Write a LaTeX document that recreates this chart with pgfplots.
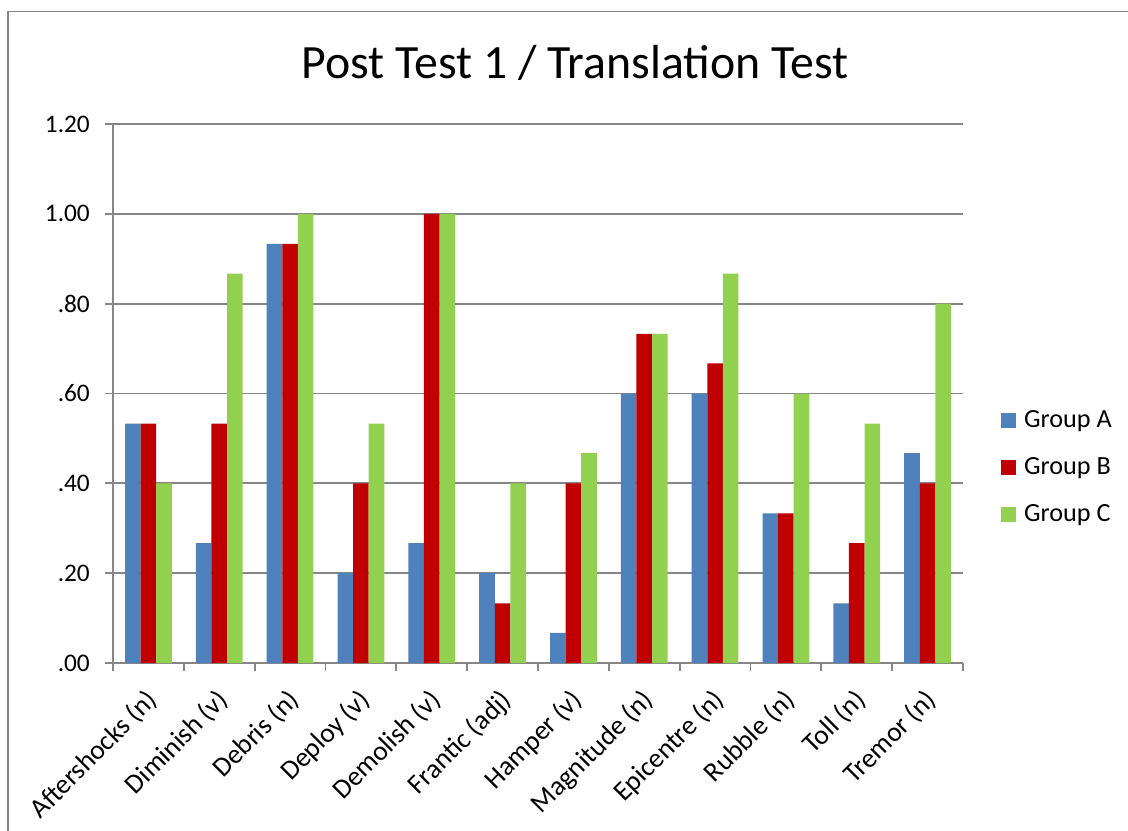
\documentclass[border=0pt]{standalone}
\usepackage{fontspec}
\setmainfont{Carlito}
\usepackage{pgfplots}
\pgfplotsset{compat=1.18}
\definecolor{grpA}{HTML}{4F81BD}
\definecolor{grpB}{HTML}{C00000}
\definecolor{grpC}{HTML}{92D050}
\definecolor{axgray}{HTML}{868686}
\pgfplotsset{sqleg/.style={legend image code/.code={\fill[##1] (0mm,-1.5mm) rectangle (3mm,1.5mm);}}}
\begin{document}
\begin{tikzpicture}
\useasboundingbox (0,0) rectangle (225.6mm,-166.2mm);
\draw[color=axgray, line width=0.35mm] (1.6mm,-2.3mm) rectangle (240mm,-180mm);
\node[font=\fontsize{27.2}{31}\selectfont, anchor=base] at (115mm,-15.6mm) {Post Test 1 / Translation Test};
\begin{axis}[
    at={(22.6mm,-132.6mm)}, anchor=south west,
    width=170mm, height=107.8mm, scale only axis,
    ybar=0pt, bar width=3.12mm,
    xmin=-0.5, xmax=11.5, ymin=0, ymax=1.2,
    axis x line*=bottom, axis y line*=left,
    axis line style={axgray, line width=0.35mm},
    ymajorgrids, grid style={axgray, line width=0.35mm},
    tick align=outside, major tick length=1.6mm, minor tick length=1.6mm,
    ytick={0,0.2,0.4,0.6,0.8,1.0,1.2},
    yticklabels={.00,.20,.40,.60,.80,1.00,1.20},
    major y tick style={axgray, line width=0.35mm},
    yticklabel style={font=\fontsize{14.4}{17}\selectfont, xshift=-1.8mm},
    xtick={0,1,2,3,4,5,6,7,8,9,10,11},
    minor xtick={-0.5,0.5,1.5,2.5,3.5,4.5,5.5,6.5,7.5,8.5,9.5,10.5,11.5},
    major x tick style={draw=none},
    minor x tick style={axgray, line width=0.35mm},
    xticklabels={Aftershocks (n),Diminish (v),Debris (n),Deploy (v),Demolish (v),Frantic (adj),Hamper (v),Magnitude (n),Epicentre (n),Rubble (n),Toll (n),Tremor (n)},
    xticklabel style={font=\fontsize{15.6}{19}\selectfont, xshift=-0.8mm, yshift=-3.2mm, rotate=45, anchor=north east, inner sep=0pt},
    legend style={at={(1.0376,0.363)}, anchor=west, draw=none, fill=none,
        font=\fontsize{14.9}{18}\selectfont, row sep=4.1mm,
        /tikz/every odd column/.append style={column sep=1mm}},
    legend cell align=left,
]
\addplot[fill=grpA, draw=none, sqleg] coordinates {(0,0.533) (1,0.267) (2,0.933) (3,0.200) (4,0.267) (5,0.200) (6,0.067) (7,0.600) (8,0.600) (9,0.333) (10,0.133) (11,0.467)};
\addplot[fill=grpB, draw=none, sqleg] coordinates {(0,0.533) (1,0.533) (2,0.933) (3,0.400) (4,1.000) (5,0.133) (6,0.400) (7,0.733) (8,0.667) (9,0.333) (10,0.267) (11,0.400)};
\addplot[fill=grpC, draw=none, sqleg] coordinates {(0,0.400) (1,0.867) (2,1.000) (3,0.533) (4,1.000) (5,0.400) (6,0.467) (7,0.733) (8,0.867) (9,0.600) (10,0.533) (11,0.800)};
\legend{Group A, Group B, Group C}
\end{axis}
\end{tikzpicture}
\end{document}
